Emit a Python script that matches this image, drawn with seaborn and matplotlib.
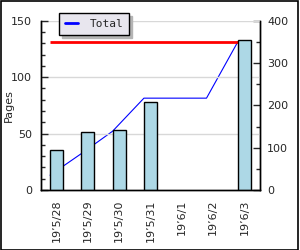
import numpy as np
import pandas as pd
import seaborn as sns
import matplotlib.pyplot as plt
from matplotlib.patches import Rectangle
from matplotlib.ticker import MultipleLocator, FixedLocator

# data
dates = ['19’5/28', '19’5/29', '19’5/30', '19’5/31', '19’6/1', '19’6/2', '19’6/3']
pages = [35, 51, 53, 78, 0, 0, 133]
total = [35, 86, 139, 217, 217, 217, 350]
target_total = 350

sns.set_style('white')
plt.rcParams['font.family'] = ['DejaVu Sans']
plt.rcParams['hatch.linewidth'] = 1.2

df = pd.DataFrame({'date': dates, 'pages': pages, 'total': total})

fig = plt.figure(figsize=(3, 2.5), dpi=100)
ax = fig.add_axes([41 / 300, 60 / 250, 219 / 300, 169.3 / 250])
ax2 = ax.twinx()
# bars sit on top of the lines
ax.set_zorder(ax2.get_zorder() + 1)
ax.patch.set_visible(False)

ax.set_axisbelow(True)
ax.yaxis.grid(True, color='#d8d8d8', linewidth=1)

bw = 0.42
sns.barplot(data=df, x='date', y='pages', color='#add8e6', edgecolor='black',
            linewidth=1, width=bw, saturation=1, ax=ax, zorder=2)
# faint pink dotted fill inside the bars
for p in list(ax.patches):
    if p.get_height() > 0:
        x0, y0 = p.get_xy()
        ax.add_patch(Rectangle((x0 + 0.04, y0 + 1), p.get_width() - 0.08, p.get_height() - 2,
                               facecolor='none', edgecolor='#e0a8b4', linewidth=0,
                               hatch='.', zorder=1.9))
    else:
        p.set_linewidth(0)

ax.set_xlim(-0.5, len(dates) - 0.5)
ax.set_ylim(0, 150)
ax.yaxis.set_major_locator(MultipleLocator(50))
ax.yaxis.set_minor_locator(MultipleLocator(10))
ax.xaxis.set_minor_locator(FixedLocator(np.arange(len(dates) - 1) + 0.5))
ax.tick_params(axis='y', which='major', direction='in', length=5, width=1, labelsize=8, pad=6.5)
ax.tick_params(axis='y', which='minor', direction='in', length=3, width=1)
ax.tick_params(axis='x', which='major', length=0, labelsize=8, pad=7, labelrotation=90)
ax.tick_params(axis='x', which='minor', direction='in', length=5, width=1)
ax.set_xlabel('')
ax.set_ylabel('Pages', fontsize=8)
ax.yaxis.set_label_coords(-0.125, 0.5)

xline = np.arange(len(dates)) - bw / 2
sns.lineplot(x=xline, y=df['total'], color='blue', linewidth=0.8, ax=ax2, label='Total')
ax2.hlines(target_total, xline[0], xline[-1], color='red', linewidth=2)
ax2.get_legend().remove()
ax2.set_ylim(0, 400)
ax2.yaxis.set_major_locator(MultipleLocator(100))
ax2.yaxis.set_minor_locator(MultipleLocator(50))
ax2.tick_params(axis='y', which='major', direction='in', length=5, width=1, labelsize=8, pad=5)
ax2.tick_params(axis='y', which='minor', direction='in', length=3, width=1)
ax2.set_ylabel('')
ax2.set_xlim(-0.5, len(dates) - 0.5)

for a in (ax, ax2):
    a.spines['top'].set_visible(False)
    for s in ('left', 'right', 'bottom'):
        a.spines[s].set_color('black')
        a.spines[s].set_linewidth(1)

leg = ax.legend(handles=ax2.get_lines()[:1], labels=['Total'], loc='upper left',
                bbox_to_anchor=(0.082, 1.045), borderaxespad=0,
                fancybox=False, shadow={'color': '#b4b4b4', 'alpha': 1},
                prop={'family': 'DejaVu Sans Mono', 'size': 8},
                handlelength=1.2, handletextpad=1.0, borderpad=0.55)
leg.set_zorder(10)
leg.get_frame().set_facecolor('#e8e6ee')
leg.get_frame().set_edgecolor('black')
leg.get_frame().set_alpha(1)
leg.get_lines()[0].set_linewidth(2)

fig.patches.append(Rectangle((0.002, 0.002), 0.992, 0.994, transform=fig.transFigure,
                             fill=False, edgecolor='black', linewidth=1.2))

fig.savefig('out.png', dpi=100)
